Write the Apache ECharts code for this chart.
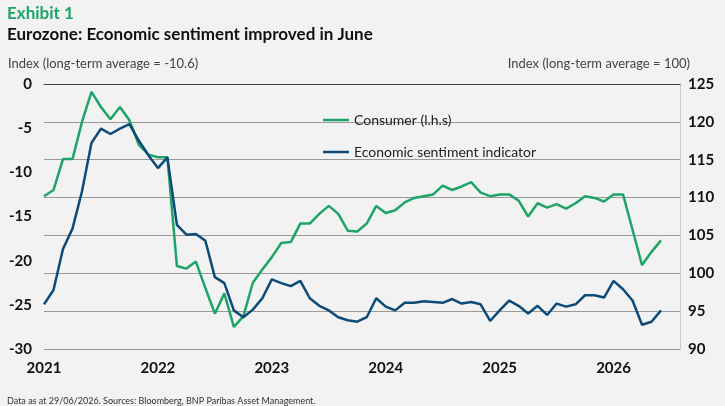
<!DOCTYPE html>
<html>
<head>
<meta charset="utf-8">
<script src="https://cdn.jsdelivr.net/npm/echarts@6/dist/echarts.min.js"></script>
<style>
  html, body { margin: 0; padding: 0; background: #f2f2f2; }
  #chart { width: 725px; height: 406px; }
</style>
</head>
<body>
<div id="chart"></div>
<script>
// months Jan 2021 .. Aug 2026 (last two empty)
var mesi = [];
for (var a = 2021; a <= 2026; a++) {
  for (var m = 1; m <= 12; m++) {
    if (a === 2026 && m > 8) break;
    mesi.push(a + '-' + (m < 10 ? '0' + m : m));
  }
}

// Consumer confidence (l.h.s)
var consumer = [
  -12.7, -12.0, -8.5, -8.5, -4.3, -0.9, -2.6, -4.0, -2.6, -4.1, -6.9, -8.0,
  -8.3, -8.3, -20.6, -20.9, -20.1, -23.1, -26.0, -23.7, -27.5, -26.3, -22.5, -21.0,
  -19.6, -18.0, -17.9, -15.8, -15.8, -14.7, -13.8, -14.7, -16.6, -16.7, -15.8, -13.8,
  -14.6, -14.3, -13.4, -12.9, -12.7, -12.5, -11.5, -12.0, -11.6, -11.1, -12.3, -12.7,
  -12.5, -12.5, -13.2, -15.0, -13.5, -14.0, -13.6, -14.1, -13.5, -12.7, -12.9, -13.3,
  -12.5, -12.5, -16.5, -20.5, -19.0, -17.7
];

// Economic sentiment indicator (r.h.s)
var esi = [
  95.9, 97.8, 103.2, 105.9, 110.8, 117.2, 119.1, 118.4, 119.1, 119.7, 117.5, 115.6,
  113.9, 115.3, 106.4, 105.1, 105.2, 104.3, 99.5, 98.7, 95.1, 94.2, 95.2, 96.7,
  99.2, 98.7, 98.3, 99.0, 96.7, 95.7, 95.1, 94.2, 93.8, 93.6, 94.2, 96.7,
  95.6, 95.1, 96.1, 96.1, 96.3, 96.2, 96.1, 96.6, 96.0, 96.2, 95.9, 93.7,
  95.1, 96.4, 95.7, 94.7, 95.7, 94.5, 96.0, 95.6, 95.9, 97.1, 97.1, 96.8,
  99.0, 97.9, 96.4, 93.2, 93.6, 95.1
];

var verde = '#1fa468';
var blu = '#0c4a78';

var grafico = echarts.init(document.getElementById('chart'));
grafico.setOption({
  backgroundColor: '#f2f2f2',
  animation: false,
  textStyle: { fontFamily: 'Lato' },
  title: [
    { text: 'Exhibit 1', left: 2, top: 0, textStyle: { color: verde, fontSize: 17, fontWeight: 'bold' } },
    { text: 'Eurozone: Economic sentiment improved in June', left: 2, top: 21, textStyle: { color: '#111', fontSize: 17, fontWeight: 'bold' } },
    { text: 'Data as at 29/06/2026. Sources: Bloomberg, BNP Paribas Asset Management.', left: 2, top: 392, textStyle: { color: '#333', fontSize: 9, fontWeight: 'normal' } }
  ],
  legend: {
    orient: 'vertical', left: 318, top: 108, itemGap: 18, itemWidth: 26,
    icon: 'path://M0,0H26V2.5H0Z',
    textStyle: { color: '#222', fontSize: 14 },
    data: ['Consumer (l.h.s)', 'Economic sentiment indicator']
  },
  grid: { left: 44, right: 45, top: 84, bottom: 57 },
  xAxis: {
    type: 'category', data: mesi, boundaryGap: false,
    axisLine: { lineStyle: { color: '#444' } },
    axisTick: { show: false },
    axisLabel: {
      color: '#111', fontSize: 15, fontWeight: 'bold', margin: 12,
      interval: function (i) { return i % 12 === 0; },
      formatter: function (v) { return v.slice(0, 4); }
    },
    splitLine: { show: false }
  },
  yAxis: [
    {
      type: 'value', min: -30, max: 0, interval: 5,
      name: 'Index (long-term average = -10.6)', nameLocation: 'end', nameGap: 14,
      nameTextStyle: { align: 'left', color: '#444', fontSize: 13, padding: [0, 0, 0, -36] },
      axisLine: { show: false }, axisTick: { show: false },
      axisLabel: { color: '#111', fontSize: 15, fontWeight: 'bold', margin: 12 },
      splitLine: { show: false }
    },
    {
      type: 'value', min: 90, max: 125, interval: 5,
      name: 'Index (long-term average = 100)', nameLocation: 'end', nameGap: 14,
      nameTextStyle: { align: 'right', color: '#444', fontSize: 13, padding: [0, -10, 0, 0] },
      axisLine: { show: true, lineStyle: { color: '#ccc' } }, axisTick: { show: false },
      axisLabel: { color: '#111', fontSize: 15, fontWeight: 'bold', margin: 8 },
      splitLine: { show: true, lineStyle: { color: '#999', width: 1 } }
    }
  ],
  series: [
    { name: 'Consumer (l.h.s)', type: 'line', yAxisIndex: 0, data: consumer, showSymbol: false,
      lineStyle: { color: verde, width: 2.5 }, itemStyle: { color: verde } },
    { name: 'Economic sentiment indicator', type: 'line', yAxisIndex: 1, data: esi, showSymbol: false,
      lineStyle: { color: blu, width: 2.5 }, itemStyle: { color: blu } }
  ]
});
</script>
</body>
</html>
